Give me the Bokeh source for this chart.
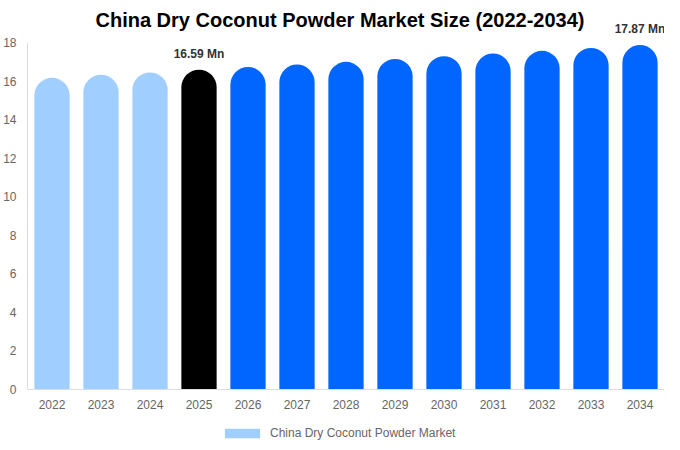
from bokeh.plotting import figure
from bokeh.models import (ColumnDataSource, Legend, LegendItem, FixedTicker,
                          Range1d, Label)
from bokeh.embed import file_html
from bokeh.resources import INLINE

years = ["2022", "2023", "2024", "2025", "2026", "2027", "2028",
         "2029", "2030", "2031", "2032", "2033", "2034"]
market = [16.17, 16.33, 16.45, 16.59, 16.73, 16.86, 17.00,
          17.15, 17.29, 17.43, 17.57, 17.72, 17.87]
colors = ["#a0cfff", "#a0cfff", "#a0cfff", "#000000"] + ["#0066ff"] * 9
label_years = ["2025", "2034"]
y_ticks = [0, 2, 4, 6, 8, 10, 12, 14, 16, 18]
title_text = "China Dry Coconut Powder Market Size (2022-2034)"
series_name = "China Dry Coconut Powder Market"

FONT = "Liberation Sans"
Y_MIN, Y_MAX = -2.75, 20.18   # room below for tick labels/legend, above for title

p = figure(x_range=years, y_range=Range1d(Y_MIN, Y_MAX),
           width=664, height=442,
           output_backend="svg", toolbar_location=None,
           min_border_left=0, min_border_right=0, min_border_top=0,
           min_border_bottom=0)

p.add_layout(Label(x=len(years) / 2, y=Y_MAX, text=title_text,
                   text_align="center", text_baseline="middle",
                   x_offset=-6, y_offset=-19, text_font=FONT,
                   text_font_size="20px", text_font_style="bold",
                   text_color="#000000"))

src = ColumnDataSource(dict(x=years, top=market, color=colors))
p.vbar(x="x", top="top", bottom=0, width=0.72, color="color", source=src,
       border_radius=(18, 18, 0, 0), line_color=None)

for yr in label_years:
    i = years.index(yr)
    v = market[i]
    # categorical factor i is centred at synthetic coordinate i + 0.5
    p.add_layout(Label(x=i + 0.5, y=v, text=f"{v:.2f} Mn", text_align="center",
                       text_baseline="bottom", y_offset=9, text_font=FONT,
                       text_font_size="12px", text_font_style="bold",
                       text_color="#333333"))

# legend swatch (plain rectangle)
dummy = p.quad(left=["2022"], right=["2022"], top=[0], bottom=[0],
               color="#a0cfff", line_color=None)
legend = Legend(items=[LegendItem(label=series_name, renderers=[dummy])],
                orientation="horizontal", location=(193, 2),
                glyph_width=44, glyph_height=12, label_text_font=FONT,
                label_text_font_size="12px", label_text_color="#666666",
                border_line_color=None, background_fill_alpha=0,
                padding=0, margin=0, label_standoff=6)
p.add_layout(legend, "center")

p.xgrid.grid_line_color = None
p.ygrid.grid_line_color = None
p.outline_line_color = None

p.xaxis.fixed_location = 0
p.yaxis.ticker = FixedTicker(ticks=y_ticks)
p.yaxis.bounds = (0, 18)
for ax in (p.xaxis, p.yaxis):
    ax.axis_line_color = "#dddddd"
    ax.major_tick_line_color = None
    ax.minor_tick_line_color = None
    ax.major_label_text_font = FONT
    ax.major_label_text_font_size = "12px"
    ax.major_label_text_color = "#666666"
p.yaxis.major_label_standoff = 5
p.xaxis.major_label_standoff = 5
p.x_range.range_padding = 0.0
p.x_range.group_padding = 0.0

open("out.html", "w").write(file_html(p, INLINE))
